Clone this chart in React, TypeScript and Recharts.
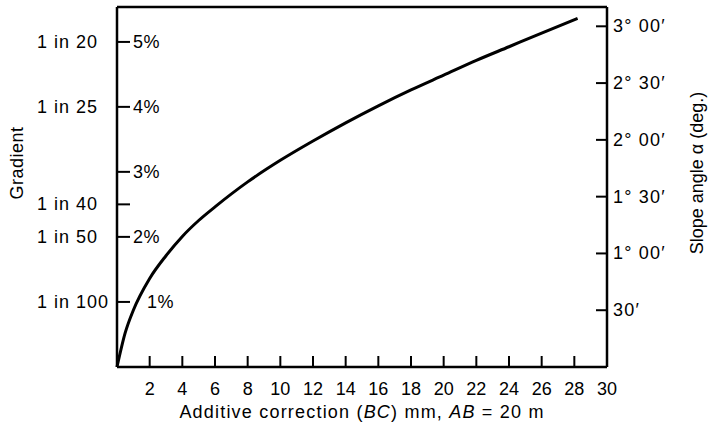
import { LineChart, Line, XAxis, YAxis, Label, ReferenceLine } from 'recharts';

// additive correction BC (mm) against slope angle (degrees)
const correctionMm = [0, 0.5, 1, 2, 3, 4, 5, 6, 8, 10, 12, 14, 16, 18, 20, 22, 24, 26, 28.2];
const slopeDeg = [0, 0.3, 0.5, 0.78, 0.98, 1.15, 1.29, 1.41, 1.63, 1.82, 1.99, 2.15, 2.3, 2.44, 2.57, 2.7, 2.82, 2.94, 3.07];

const xTicks = [0, 2, 4, 6, 8, 10, 12, 14, 16, 18, 20, 22, 24, 26, 28, 30];

const gradientPercents = [1, 2, 2.5, 3, 4, 5];
const percentLabels = ['1%', '2%', '', '3%', '4%', '5%'];
const ratioLabels = ['1 in 100', '1 in 50', '1 in 40', '', '1 in 25', '1 in 20'];

const angleTicks = [0.5, 1, 1.5, 2, 2.5, 3];
const angleLabels = ['30\u2032', '1\u00b0 00\u2032', '1\u00b0 30\u2032', '2\u00b0 00\u2032', '2\u00b0 30\u2032', '3\u00b0 00\u2032'];

const DEG_MAX = 3.17;

const data = correctionMm.map((x, i) => ({ x, deg: slopeDeg[i] }));
// gradient ticks sit on the angle scale: angle = atan(percent / 100)
const gradientTickDeg = gradientPercents.map(p => (Math.atan(p / 100) * 180) / Math.PI);

const FONT = '"Liberation Sans", Arial, Helvetica, sans-serif';
const INK = '#000';
const TICK_LEN = 13;
const textStyle = { fontFamily: FONT, fontSize: 18, fill: INK };

const LeftTick = (props: any) => {
  const { x, y, index } = props;
  // the 1% label is pushed right, clear of the curve
  const pctX = index === 0 ? x + 30 : x + TICK_LEN + 3;
  return (
    <g>
      <line x1={x} x2={x + TICK_LEN} y1={y} y2={y} stroke={INK} strokeWidth={2} />
      {percentLabels[index] && (
        <text x={pctX} y={y} dy={6} {...textStyle} letterSpacing={0.5}>{percentLabels[index]}</text>
      )}
      {ratioLabels[index] && (
        <text x={37} y={y} dy={6} {...textStyle} letterSpacing={1}>{ratioLabels[index]}</text>
      )}
    </g>
  );
};

const RightTick = (props: any) => {
  const { x, y, index } = props;
  return (
    <g>
      <line x1={x - 11} x2={x} y1={y} y2={y} stroke={INK} strokeWidth={2} />
      <text x={x + 6} y={y} dy={6} {...textStyle} letterSpacing={1.2}>{angleLabels[index]}</text>
    </g>
  );
};

const BottomTick = (props: any) => {
  const { x, y, payload } = props;
  const v = payload.value;
  if (v === 0) return null;
  return (
    <g>
      {v !== 30 && <line x1={x} x2={x} y1={y} y2={y - 11} stroke={INK} strokeWidth={2} />}
      <text x={x} y={y} dy={28} textAnchor="middle" {...textStyle}>{v}</text>
    </g>
  );
};

const App = () => (
  <div style={{ position: 'absolute', left: 0, top: 0, background: '#fff' }}>
    <LineChart width={711} height={431} data={data} margin={{ top: 7, right: 0, bottom: 0, left: 0 }}>
      <XAxis
        dataKey="x" type="number" domain={[0, 30]} ticks={xTicks} interval={0}
        height={64} tickSize={0} tickMargin={0} tickLine={false}
        axisLine={{ stroke: INK, strokeWidth: 2.5 }} tick={<BottomTick />}
      >
        <Label
          content={() => (
            <text x={362} y={418} textAnchor="middle" {...textStyle} letterSpacing={1.2}>
              Additive correction (<tspan fontStyle="italic">BC</tspan>) mm, <tspan fontStyle="italic">AB</tspan> = 20 m
            </text>
          )}
        />
      </XAxis>
      <YAxis
        yAxisId="deg" type="number" domain={[0, DEG_MAX]} ticks={gradientTickDeg} interval={0}
        width={117} tickSize={0} tickMargin={0} tickLine={false}
        axisLine={{ stroke: INK, strokeWidth: 2.5 }} tick={<LeftTick />}
      >
        <Label
          content={() => (
            <text x={23} y={163} textAnchor="middle" transform="rotate(-90 23 163)" {...textStyle} letterSpacing={0.5}>
              Gradient
            </text>
          )}
        />
      </YAxis>
      <YAxis
        yAxisId="right" orientation="right" type="number" domain={[0, DEG_MAX]} ticks={angleTicks} interval={0}
        width={104} tickSize={0} tickMargin={0} tickLine={false}
        axisLine={{ stroke: INK, strokeWidth: 2.5 }} tick={<RightTick />}
      >
        <Label
          content={() => (
            <text x={703} y={173} textAnchor="middle" transform="rotate(-90 703 173)" {...textStyle}>
              Slope angle α (deg.)
            </text>
          )}
        />
      </YAxis>
      {/* top frame line */}
      <ReferenceLine yAxisId="deg" y={DEG_MAX} stroke={INK} strokeWidth={2.5} />
      <Line
        yAxisId="deg" dataKey="deg" type="monotone" stroke={INK} strokeWidth={3}
        dot={false} isAnimationActive={false}
      />
      {/* same curve on the right axis, not drawn, so that axis renders */}
      <Line
        yAxisId="right" dataKey="deg" type="monotone" stroke="none"
        dot={false} activeDot={false} legendType="none" isAnimationActive={false}
      />
    </LineChart>
  </div>
);

export default App;
